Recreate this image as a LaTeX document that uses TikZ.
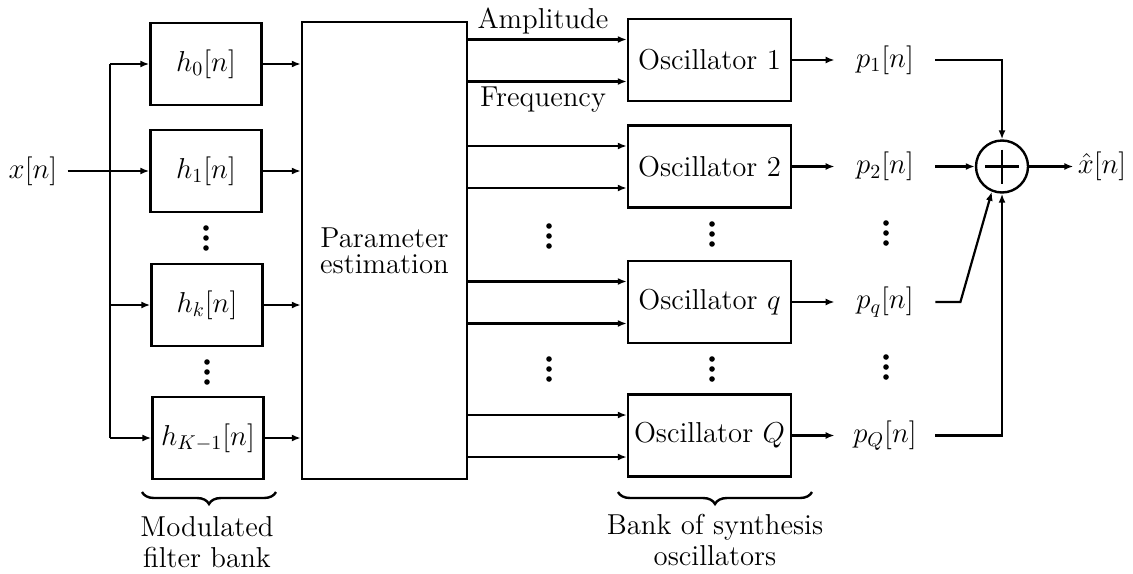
\documentclass[tikz,border=0pt]{standalone}
\usetikzlibrary{arrows.meta,calc,decorations.pathreplacing}
\begin{document}
\begin{tikzpicture}[x=0.5pt,y=-0.5pt,
  every node/.style={font=\fontsize{14.4}{16}\selectfont},
  box/.style={draw,line width=1.2pt,inner sep=0pt},
  fbox/.style={box,minimum width=55.5pt,minimum height=41pt},
  obox/.style={box,minimum width=81.5pt,minimum height=41pt},
  conn/.style={line width=1.1pt},
  arr/.style={conn,-{Latex[length=4.5pt,width=3.5pt]}},
  vdot/.style={circle,fill,inner sep=0pt,minimum size=2.8pt},
  plabel/.style={inner sep=0pt,minimum width=50pt,minimum height=14pt},
  brc/.style={decorate,decoration={brace,mirror,amplitude=6pt},line width=1.2pt},
  caption/.style={align=center,inner sep=0pt,anchor=north,font=\fontsize{14.4}{15.5}\selectfont}]
\useasboundingbox (0,0) rectangle (1133,573);

% filter bank
\node[fbox] (h0) at (206,64) {$h_0[n]$};
\node[fbox] (h1) at (206,171) {$h_1[n]$};
\node[fbox] (hk) at (207,305) {$h_k[n]$};
\node[fbox] (hK) at (208,438) {$h_{K-1}[n]$};

% parameter estimation
\node[box,minimum width=82.5pt,minimum height=228.5pt,align=center,
      font=\fontsize{14.4}{13}\selectfont] (pe) at (384.5,250.5) {Parameter\\estimation};

% input
\node[inner xsep=5pt] (x) at (33,171) {$x[n]$};
\draw[arr] (x.east) -- (h1.west);
\coordinate (bus) at (110,0);
\draw[conn] (bus |- h0.west) -- (bus |- hK.west);
\foreach \h in {h0,hk,hK} \draw[arr] (bus |- \h.west) -- (\h.west);
\foreach \h in {h0,h1,hk,hK} \draw[arr] (\h.east) -- (pe.west |- \h.east);

% oscillators
\node[obox] (o1) at (709.5,60) {Oscillator 1};
\node[obox] (o2) at (709.5,166.5) {Oscillator 2};
\node[obox] (oq) at (709.5,302) {Oscillator $q$};
\node[obox] (oQ) at (709.5,435.5) {Oscillator $Q$};
\foreach \o in {o1,o2,oq,oQ}{
  \coordinate (\o a) at ($(\o.west)+(0,-20.5)$);
  \coordinate (\o f) at ($(\o.west)+(0,21.5)$);
  \draw[arr] (pe.east |- \o a) -- (\o a);
  \draw[arr] (pe.east |- \o f) -- (\o f);
}
\node (amp) at (543,21) {Amplitude};
\node (frq) at (543,100) {Frequency};

% dots
\foreach \px/\py in {206/238, 207/372, 549/236, 549/369, 712/234, 712/369, 886/233, 886/367}
  \foreach \d in {-10,0,10}
    \node[vdot] at (\px,\py+\d) {};

% outputs
\node[plabel] (p1) at (885,60) {$p_1[n]$};
\node[plabel] (p2) at (885,166.5) {$p_2[n]$};
\node[plabel] (pq) at (885,302) {$p_q[n]$};
\node[plabel] (pQ) at (885,435.5) {$p_Q[n]$};
\draw[arr] (o1.east) -- (p1.west);
\draw[arr] (o2.east) -- (p2.west);
\draw[arr] (oq.east) -- (pq.west);
\draw[arr] (oQ.east) -- (pQ.west);

% summer
\node[circle,draw,line width=1.2pt,minimum size=26pt,inner sep=0pt] (sum) at (1002,166.5) {};
\draw[line width=1.2pt] ($(sum.center)+(-17,0)$) -- ($(sum.center)+(17,0)$);
\draw[line width=1.2pt] ($(sum.center)+(0,-17)$) -- ($(sum.center)+(0,17)$);
\draw[arr] (p1.east) -| (sum.north);
\draw[arr] (p2.east) -- (sum.west);
\coordinate (qb) at ($(pq.east)+(25,0)$);
\draw[arr] (pq.east) -- (qb) -- (sum.-112);
\draw[arr] (pQ.east) -| (sum.south);
\node[inner xsep=2pt] (xh) at (1102,166.5) {$\hat{x}[n]$};
\draw[arr] (sum.east) -- (xh.west);

% braces and captions
\coordinate (b1l) at (142,492);
\coordinate (b1r) at (276,492);
\draw[brc] (b1l) -- (b1r);
\node[caption] (c1) at (207,516) {Modulated\\filter bank};
\coordinate (b2l) at (618,492);
\coordinate (b2r) at (812,492);
\draw[brc] (b2l) -- (b2r);
\node[caption] (c2) at (715,514) {Bank of synthesis\\oscillators};
\end{tikzpicture}
\end{document}
